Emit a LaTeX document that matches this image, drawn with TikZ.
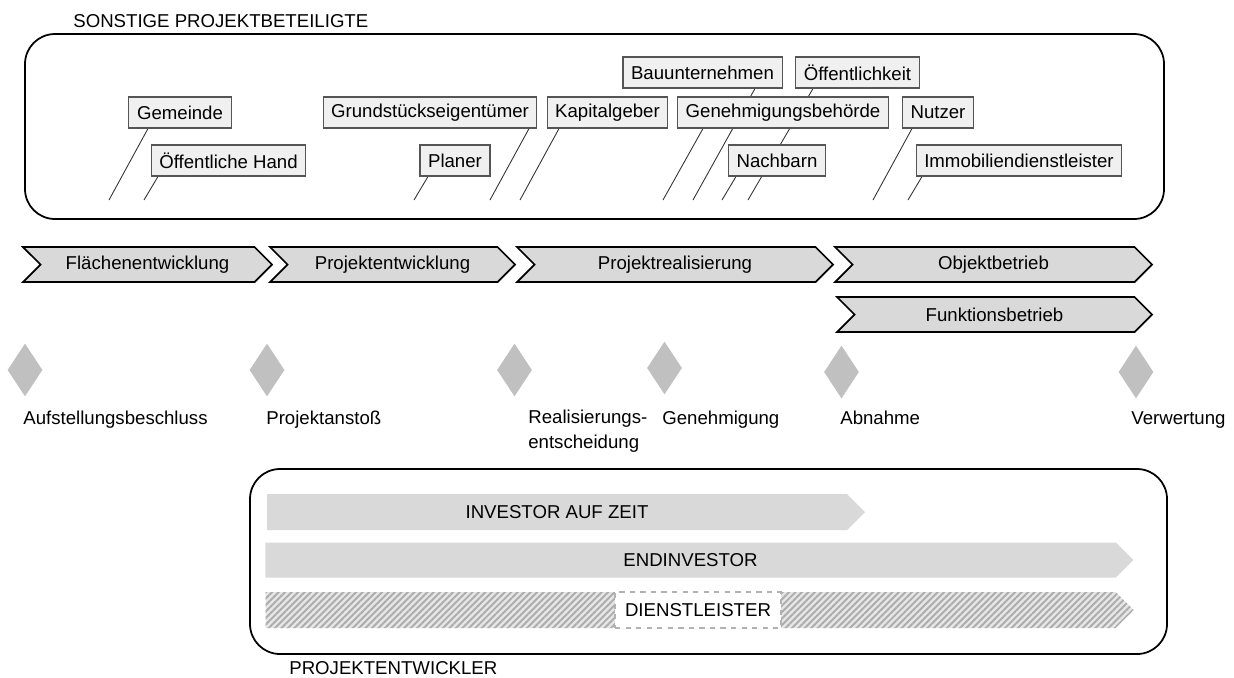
\documentclass[tikz,border=0pt]{standalone}
\usepackage{fontspec}
\setmainfont{Liberation Sans}
\usetikzlibrary{shapes.geometric,shapes.symbols,calc,backgrounds,patterns.meta}

\newlength{\pxu}
\setlength{\pxu}{0.02cm}

\definecolor{boxfill}{HTML}{F0F0F0}
\definecolor{boxline}{HTML}{555555}
\definecolor{phasefill}{HTML}{D9D9D9}
\definecolor{stonefill}{HTML}{C0C0C0}
\definecolor{hatchbg}{HTML}{E6E6E6}
\definecolor{hatchline}{HTML}{ACACAC}

\begin{document}
\begin{tikzpicture}[
x=0.02cm, y=-0.02cm,
every node/.style={font=\fontsize{10.6}{14.2}\selectfont},
frame/.style={rectangle, draw, line width=1pt, rounded corners=30\pxu},
party/.style={rectangle, draw=boxline, fill=boxfill, line width=0.6pt, minimum height=31\pxu, inner xsep=4.6pt, inner ysep=0pt},
link/.style={draw=black!80, line width=0.5pt},
phase/.style={signal, signal from=west, signal to=east, draw, line width=1pt, fill=phasefill, minimum height=35\pxu, inner sep=0pt},
stone/.style={diamond, fill=stonefill, inner sep=0pt, minimum width=35\pxu, minimum height=53\pxu},
mile/.style={anchor=base west, align=left, inner sep=0pt},
bar/.style={signal, signal to=east, fill=phasefill, minimum height=36\pxu, inner sep=0pt},
dlbox/.style={rectangle, fill=white, draw=gray!60, dashed, line width=0.6pt, minimum width=166\pxu, minimum height=36\pxu, inner sep=0pt}
]
\useasboundingbox (0,0) rectangle (1234,677);

\node[frame, minimum width=1139\pxu, minimum height=185\pxu] (others) at (594.5,126.5) {};
\node[anchor=base west, inner sep=0pt] (otherslbl) at (73,27) {SONSTIGE PROJEKTBETEILIGTE};

\node[party] (gem) at (180,112.5) {Gemeinde};
\node[party] (oeh) at (228.5,160.5) {Öffentliche Hand};
\node[party] (gru) at (430,112.5) {Grundstückseigentümer};
\node[party] (pla) at (455,160.5) {Planer};
\node[party] (kap) at (607.5,112.5) {Kapitalgeber};
\node[party] (bau) at (702.5,72.5) {Bauunternehmen};
\node[party] (oef) at (857.5,72.5) {Öffentlichkeit};
\node[party] (geh) at (783,112.5) {Genehmigungsbehörde};
\node[party] (nac) at (777,160.5) {Nachbarn};
\node[party] (nut) at (938,112.5) {Nutzer};
\node[party] (imm) at (1019,160.5) {Immobiliendienstleister};

\coordinate (gem-f) at (109,200);
\coordinate (oeh-f) at (144,200);
\coordinate (gru-f) at (490,200);
\coordinate (pla-f) at (414,200);
\coordinate (kap-f) at (520,200);
\coordinate (bau-f) at (693,200);
\coordinate (oef-f) at (748,200);
\coordinate (geh-f) at (663,200);
\coordinate (nac-f) at (722,200);
\coordinate (nut-f) at (873,200);
\coordinate (imm-f) at (908,200);

\begin{scope}[on background layer]
\draw[link] ($(gem.south)+(-32,0)$) -- (gem-f);
\draw[link] ($(oeh.south)+(-70.5,0)$) -- (oeh-f);
\draw[link] ($(gru.south)+(99,0)$) -- (gru-f);
\draw[link] ($(pla.south)+(-27,0)$) -- (pla-f);
\draw[link] ($(kap.south)+(-48.5,0)$) -- (kap-f);
\draw[link] ($(bau.south)+(52.5,0)$) -- (bau-f);
\draw[link] ($(oef.south)+(-44.5,0)$) -- (oef-f);
\draw[link] ($(geh.south)+(-80,0)$) -- (geh-f);
\draw[link] ($(nac.south)+(-41,0)$) -- (nac-f);
\draw[link] ($(nut.south)+(-26,0)$) -- (nut-f);
\draw[link] ($(imm.south)+(-97,0)$) -- (imm-f);
\end{scope}

\node[phase, minimum width=249\pxu] (fla) at (147.5,264.5) {Flächenentwicklung};
\node[phase, minimum width=245\pxu] (pen) at (392.5,264.5) {Projektentwicklung};
\node[phase, minimum width=316\pxu] (pre) at (675,264.5) {Projektrealisierung};
\node[phase, minimum width=317\pxu] (obj) at (993.5,264.5) {Objektbetrieb};
\node[phase, minimum width=315\pxu] (fun) at (994.5,314.5) {Funktionsbetrieb};

\node[stone] (ms1) at (25,370) {};
\node[stone] (ms2) at (267,370) {};
\node[stone] (ms3) at (514.5,370) {};
\node[stone] (ms4) at (664.5,368) {};
\node[stone] (ms5) at (841.5,372) {};
\node[stone] (ms6) at (1136,372) {};

\node[mile] (ms1l) at (23,424) {Aufstellungsbeschluss};
\node[mile] (ms2l) at (266,424) {Projektanstoß};
\node[mile] (ms3l) at (528,448) {Realisierungs-\\entscheidung};
\node[mile] (ms4l) at (662,424) {Genehmigung};
\node[mile] (ms5l) at (840,424) {Abnahme};
\node[mile] (ms6l) at (1131,424) {Verwertung};

\node[frame, minimum width=917\pxu, minimum height=185\pxu] (dev) at (708.5,561.5) {};
\node[anchor=base west, inner sep=0pt] (devlbl) at (289,674) {PROJEKTENTWICKLER};

\node[bar, minimum width=598\pxu] (iaz) at (557,512) {INVESTOR AUF ZEIT};
\node[bar, minimum width=868\pxu, minimum height=35\pxu] (end) at (690.5,560) {ENDINVESTOR};
\node[bar, minimum width=868\pxu, fill=hatchbg, postaction={pattern={Lines[angle=45,distance=2.6pt,line width=1.1pt]}, pattern color=hatchline}] (dlbar) at (690.5,610) {};
\node[dlbox] (dl) at (698,610) {DIENSTLEISTER};

\end{tikzpicture}
\end{document}
